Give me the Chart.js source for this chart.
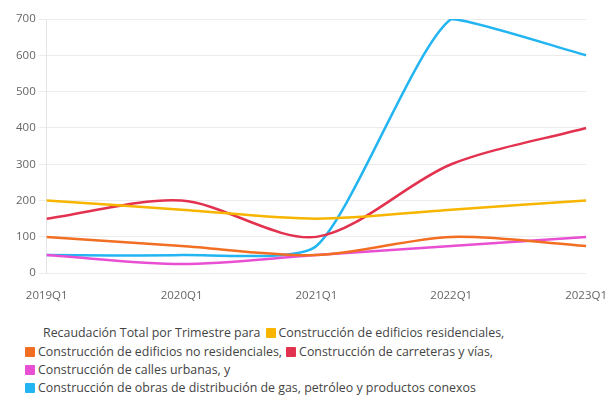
<!DOCTYPE html>
<html>
<head>
<meta charset="utf-8">
<script src="https://cdn.jsdelivr.net/npm/chart.js"></script>
<style>
  html, body { margin: 0; padding: 0; background: #fff; overflow: hidden; width: 607px; height: 405px; }
  #wrap { position: absolute; left: 0; top: 0; width: 615px; height: 311px; }
  #legend { position: absolute; left: 0; top: 320px; width: 607px; font-family: "Open Sans", sans-serif; font-size: 12.4px; color: #444; }
  .row { position: absolute; white-space: nowrap; line-height: 16px; }
  .box { display: inline-block; width: 10px; height: 10px; vertical-align: -1px; margin-right: 3px; border-radius: 1px; }
  .item { margin-right: 4px; }
</style>
</head>
<body>
<div id="wrap"><canvas id="chart"></canvas></div>
<div id="legend"></div>
<script>
// datos
const categories = ['2019Q1', '2020Q1', '2021Q1', '2022Q1', '2023Q1'];
const residenciales = [200, 175, 150, 175, 200];
const noResidenciales = [100, 75, 50, 100, 75];
const carreteras = [150, 200, 100, 300, 400];
const calles = [50, 25, 50, 75, 100];
const gas = [50, 50, 75, 700, 600];
const yTicks = [0, 100, 200, 300, 400, 500, 600, 700];

const legendTitle = 'Recaudación Total por Trimestre para';
const seriesNames = [
  'Construcción de edificios residenciales,',
  'Construcción de edificios no residenciales,',
  'Construcción de carreteras y vías,',
  'Construcción de calles urbanas, y',
  'Construcción de obras de distribución de gas, petróleo y productos conexos'
];
const colors = ['#F7B500', '#F26E22', '#E3324F', '#E94FD3', '#22B5F2'];
const tensions = [0.3, 0.3, 0.3, 0.3, 0.2];
const values = [residenciales, noResidenciales, carreteras, calles, gas];

const ctx = document.getElementById('chart');
new Chart(ctx, {
  type: 'line',
  data: {
    labels: categories,
    datasets: values.map((v, i) => ({
      label: seriesNames[i],
      data: v,
      borderColor: colors[i],
      backgroundColor: colors[i],
      borderWidth: 2.5,
      pointRadius: 0,
      tension: tensions[i],
      fill: false
    }))
  },
  options: {
    responsive: true,
    maintainAspectRatio: false,
    animation: false,
    layout: { padding: { top: 19, left: 13, right: 0, bottom: 0 } },
    plugins: { legend: { display: false }, tooltip: { enabled: false } },
    scales: {
      x: {
        offset: false,
        grid: { display: false },
        border: { display: false },
        ticks: { color: '#666', font: { family: 'Open Sans', size: 11.5 }, maxRotation: 0, padding: 8 }
      },
      y: {
        min: 0,
        max: 700,
        afterBuildTicks: s => { s.ticks = yTicks.map(v => ({ value: v })); },
        grid: { color: '#ececec', drawTicks: true, tickLength: 8 },
        border: { display: true, color: '#e4e4e4' },
        ticks: { color: '#666', font: { family: 'Open Sans', size: 11.5 }, padding: 3 }
      }
    }
  }
});

// leyenda en html, con el mismo orden que el original
const legend = document.getElementById('legend');
function item(i) {
  return '<span class="item"><span class="box" style="background:' + colors[i] + '"></span>' + seriesNames[i] + '</span>';
}
const rows = [
  { left: 43, top: 13, html: '<span class="item" style="margin-right:5px">' + legendTitle + '</span>' + item(0) },
  { left: 25, top: 32, html: item(1) + item(2) },
  { left: 25, top: 50, html: item(3) },
  { left: 25, top: 68, html: item(4) }
];
rows.forEach(r => {
  const d = document.createElement('div');
  d.className = 'row';
  d.style.left = r.left + 'px';
  d.style.top = (r.top - 8) + 'px';
  d.innerHTML = r.html;
  legend.appendChild(d);
});
</script>
</body>
</html>
